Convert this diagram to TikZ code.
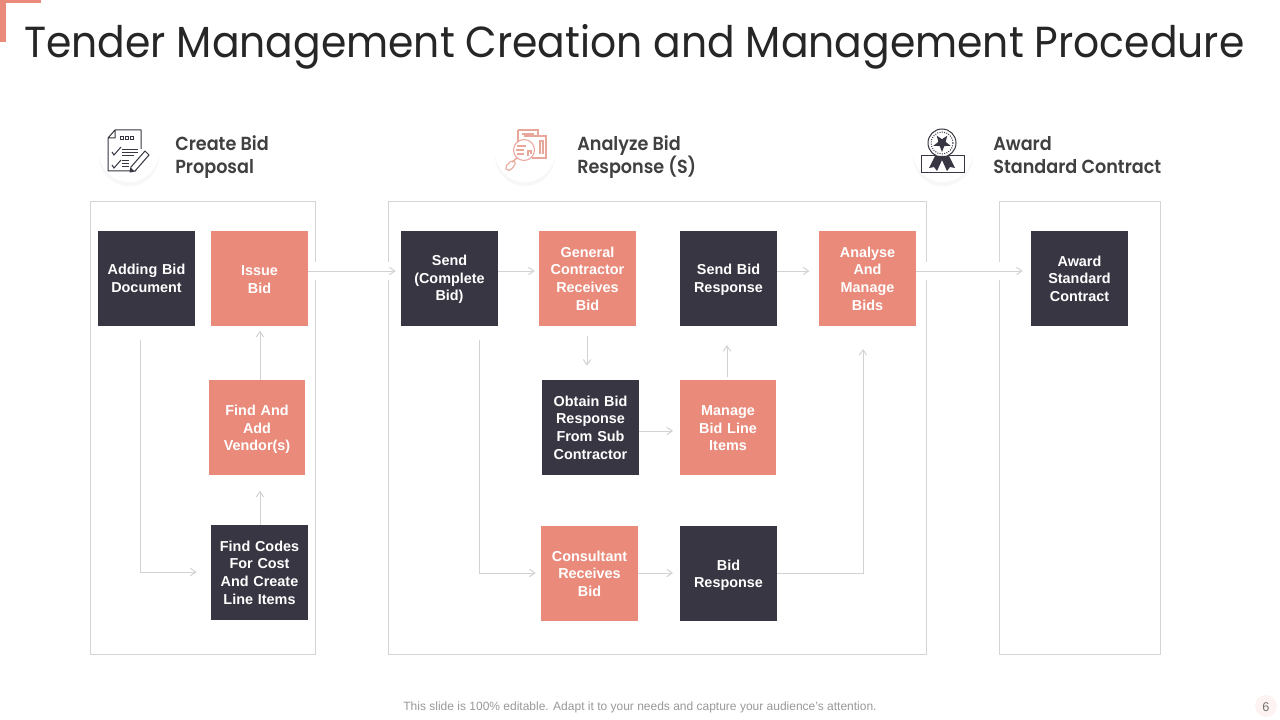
\documentclass[tikz,border=0pt]{standalone}
\usepackage{fontspec}
\setmainfont{Liberation Sans}
\newfontfamily\gothic[FakeStretch=0.94]{Poppins}
\newfontfamily\gothichead[FakeStretch=0.93]{Poppins SemiBold}
\usetikzlibrary{arrows.meta,shapes.geometric}
\definecolor{dark}{HTML}{383642}
\definecolor{salmon}{HTML}{E98A7B}
\definecolor{framec}{HTML}{D4D4D4}
\definecolor{arrowc}{HTML}{D2D2D2}
\definecolor{headc}{HTML}{404040}
\definecolor{iconred}{HTML}{E9A79B}
\tikzset{
  box/.style={minimum width=72.75pt,minimum height=71.25pt,inner sep=0pt,align=center,text=white,font=\fontsize{10.8}{13.2}\selectfont\bfseries,text width=69pt},
  darkbox/.style={box,fill=dark},
  redbox/.style={box,fill=salmon},
  nudge/.style={execute at begin node=\rule{0pt}{#1}},
  frame/.style={draw=framec,line width=0.7pt,fill=none},
  conn/.style={draw=arrowc,line width=0.75pt,-{Straight Barb[length=4pt,width=5.5pt]}},
  head/.style={anchor=base west,align=left,text=headc,inner sep=0pt,font=\gothichead\fontsize{14.2}{17.4}\selectfont},
  icon/.style={draw=dark,line width=0.75pt},
  iconr/.style={draw=iconred,line width=0.8pt}
}
\begin{document}
\begin{tikzpicture}[x=0.75pt,y=-0.75pt]
\useasboundingbox (0,0) rectangle (1280,720);
\fill[white] (0,0) rectangle (1280,720);
% corner
\fill[salmon] (0,0) rectangle (41,3);
\fill[salmon] (0,0) rectangle (6,42);
\node[anchor=base west,inner sep=0pt,text=black!85,font=\gothic\fontsize{32.6}{38}\selectfont] (title) at (24,58) {Tender Management Creation and Management Procedure};
% frames
\node[frame,minimum width=169pt,minimum height=340pt,inner sep=0pt] (f1) at (203,428) {};
\node[frame,minimum width=403.5pt,minimum height=340pt,inner sep=0pt] (f2) at (657.5,428) {};
\node[frame,minimum width=120.75pt,minimum height=340pt,inner sep=0pt] (f3) at (1080,428) {};
% gaps in the frames where the connectors cross
\fill[white] (312,262) rectangle (320,280);
\fill[white] (384,262) rectangle (392,280);
\fill[white] (923,262) rectangle (931,280);
\fill[white] (995,262) rectangle (1003,280);
% halos
\foreach \c/\x in {h1/129,h2/525,h3/943}{
  \fill[black!3] (\x,156) circle[radius=30];
  \fill[white] (\x,152) circle[radius=30];
}
% boxes
\node[darkbox] (adding) at (146.5,278.5) {Adding Bid\\Document};
\node[redbox,nudge=9.3pt] (issue) at (259.5,278.5) {Issue\\Bid};
\node[redbox,nudge=10.5pt,minimum width=72pt] (vendor) at (257,427.5) {Find And\\Add\\Vendor(s)};
\node[darkbox] (codes) at (259.5,572.5) {Find Codes\\For Cost\\And Create\\Line Items};
\node[darkbox,nudge=9.3pt] (send) at (449.5,278.5) {Send\\(Complete\\Bid)};
\node[redbox] (general) at (587.5,278.5) {General\\Contractor\\Receives\\Bid};
\node[darkbox,nudge=9.3pt] (sendresp) at (728.5,278.5) {Send Bid\\Response};
\node[redbox] (analyse) at (867.5,278.5) {Analyse\\And\\Manage\\Bids};
\node[darkbox] (award) at (1079.5,278.5) {Award\\Standard\\Contract};
\node[darkbox] (obtain) at (590.5,427.5) {Obtain Bid\\Response\\From Sub\\Contractor};
\node[redbox,nudge=8.6pt,minimum width=72pt] (manage) at (728,427.5) {Manage\\Bid Line\\Items};
\node[redbox] (consult) at (589.5,573.5) {Consultant\\Receives\\Bid};
\node[darkbox,nudge=10.5pt] (bidresp) at (728.5,573.5) {Bid\\Response};
% connectors
\draw[conn] (issue.east |- 0,271) -- ([xshift=-3.75pt]send.west |- 0,271);
\draw[conn] (send.east |- 0,271) -- ([xshift=-3pt]general.west |- 0,271);
\draw[conn] (sendresp.east |- 0,271) -- ([xshift=-7pt]analyse.west |- 0,271);
\draw[conn] (analyse.east |- 0,271) -- ([xshift=-6pt]award.west |- 0,271);
\draw[conn] ([yshift=-7.5pt]general.south -| 587,0) -- ([yshift=10.5pt]obtain.north -| 587,0);
\draw[conn] (obtain.east |- 0,431) -- ([xshift=-5pt]manage.west |- 0,431);
\draw[conn] ([yshift=2pt]manage.north -| 727,0) -- ([yshift=26pt]manage.north -| 727,0);
\draw[conn] (consult.east |- 0,573) -- ([xshift=-5pt]bidresp.west |- 0,573);
\draw[conn] (bidresp.east |- 0,573) -| ([yshift=-17pt]analyse.south -| 863,0);
\draw[conn] ([yshift=-10.5pt]send.south -| 479,0) |- ([xshift=-3.75pt]consult.west |- 0,573);
\draw[conn] ([yshift=-10.5pt]adding.south -| 140,0) |- ([xshift=-10.5pt]codes.west |- 0,572);
\draw[conn] (codes.north -| 260,0) -- ([yshift=25.5pt]codes.north -| 260,0);
\draw[conn] (vendor.north -| 260,0) -- ([yshift=36.75pt]vendor.north -| 260,0);
% headings
\node[head] (h1) at (175,174) {Create Bid\\Proposal};
\node[head] (h2) at (577,174) {Analyze Bid\\Response (S)};
\node[head] (h3) at (993,174) {Award\\Standard Contract};
% icon 1: document with pencil
\draw[icon,line join=round] (115,130) -- (141,130) -- (141,149) (136,171) -- (108,171) -- (108,138) -- (115,130) -- (115,138) -- (108,138);
\foreach \x in {120,125,130}{\draw[icon] (\x,137) rectangle +(3,3);}
\draw[icon] (112,152) -- (114,155) -- (121,147);
\draw[icon] (112,165) -- (114,168) -- (121,160);
\draw[icon] (122,150) -- (138,150) (122,153) -- (138,153) (122,156) -- (134,156);
\draw[icon] (122,161) -- (129,161) (122,164) -- (129,164) (122,167) -- (129,167);
\draw[icon,line join=round,fill=white] (131,167) -- (145,151) -- (149,155) -- (135,171) -- (130,172) -- cycle;
\fill[dark] (130,172) -- (131,168) -- (134,171) -- cycle;
% icon 2: report with magnifier
\draw[iconr] (518,130) -- (538,130) -- (538,136) (518,130) -- (518,142);
\draw[iconr] (522,134) -- (534,134);
\draw[iconr] (524,136) -- (546,136) -- (546,158) -- (532,158);
\draw[iconr] (540,154) -- (540,141) -- (543,141) -- (543,154);
\draw[iconr,fill=white] (524,150) circle[radius=10.5];
\draw[iconr] (517,146) -- (526,146) (516,150) -- (524,150) (517,154) -- (524,154);
\draw[iconr] (528,156) -- (528,151) -- (531,151) -- (531,154);
\draw[iconr,line width=1pt] (517,158) -- (512,162);
\draw[iconr,rounded corners=1.5pt] (512,160) -- (505,167) -- (507,171) -- (511,170) -- (516,163) -- cycle;
% icon 3: award
\draw[icon] (921,156) rectangle (964,173);
\draw[icon,fill=white] (942,143) circle[radius=14];
\draw[icon,densely dotted] (942,143) circle[radius=11];
\fill[dark] (942,143) +(90:9)
  -- +(126:3.8) -- +(162:9) -- +(198:3.8) -- +(234:9) -- +(270:3.8) -- +(306:9) -- +(342:3.8) -- +(18:9) -- +(54:3.8) -- cycle;
\fill[dark] (935,156) -- (929,168) -- (934,167) -- (937,171) -- (942,160) -- (947,171) -- (950,167) -- (955,168) -- (949,156) -- cycle;
% footer
\node[inner sep=0pt,text=black!40,font=\fontsize{9}{11}\selectfont] (foot) at (640,707) {This slide is 100\% editable. Adapt it to your needs and capture your audience's attention.};
\fill[salmon!10] (1266,706) circle[radius=11];
\node[inner sep=0pt,text=black!55,font=\fontsize{9.5}{11}\selectfont] (page) at (1266,707) {6};
\end{tikzpicture}
\end{document}
